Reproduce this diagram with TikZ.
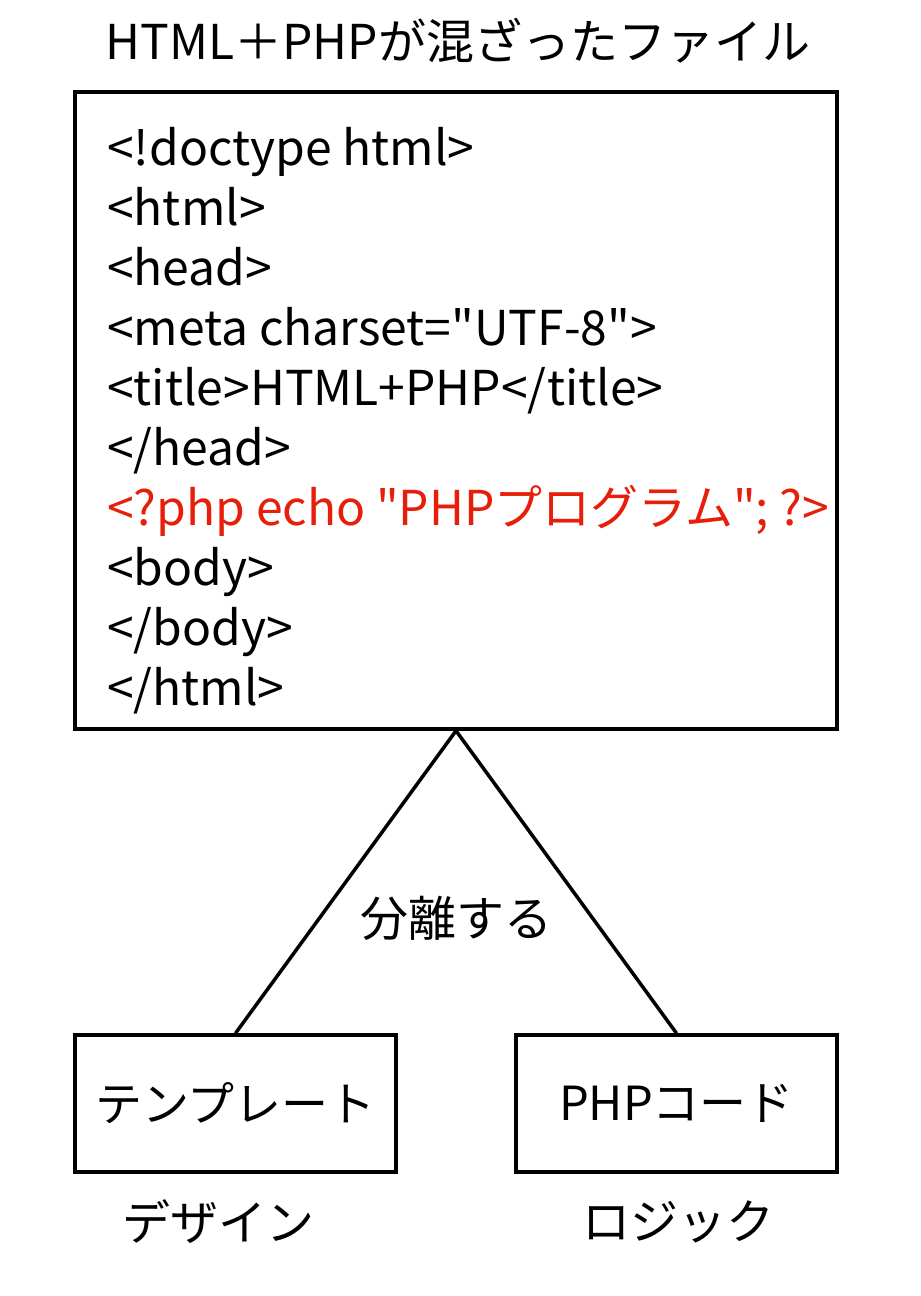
\documentclass[tikz,border=0pt]{standalone}
\usepackage{fontspec}
\setmainfont{Noto Sans CJK JP}[Ligatures=TeXOff]
\usepackage{tikz}
\usetikzlibrary{positioning}
\tikzset{%
  % Specifications for style of nodes:
         base/.style = {rectangle, draw=black, line width=3.5pt,
                        inner sep=0pt, text centered},
      filebox/.style = {base, minimum width=762pt, minimum height=637pt},
      partbox/.style = {base, minimum width=321pt, minimum height=137pt,
                        font=\fontsize{47}{50}\selectfont},
     codetext/.style = {anchor=base west, inner sep=0pt,
                        font=\fontsize{48}{60}\selectfont},
    labeltext/.style = {inner sep=0pt, font=\fontsize{48}{50}\selectfont},
         link/.style = {draw=black, line width=3.5pt},
}

\begin{document}
\begin{tikzpicture}[x=1pt, y=-1pt]
  \useasboundingbox (0,0) rectangle (921,1296);
  % Specification of nodes (position, etc.)
  \node (title) [labeltext] at (458,41) {HTML＋PHPが混ざったファイル};
  \node (file)  [filebox]   at (456,410.5) {};
  \node (line1)  [codetext] at (107,165) {<!doctype html>};
  \node (line2)  [codetext] at (107,225) {<html>};
  \node (line3)  [codetext] at (107,285) {<head>};
  \node (line4)  [codetext] at (107,345) {<meta charset="UTF-8">};
  \node (line5)  [codetext] at (107,405) {<title>HTML+PHP</title>};
  \node (line6)  [codetext] at (107,465) {</head>};
  \node (line7)  [codetext, text={rgb,255:red,230;green,30;blue,10}] at (107,525) {<?php echo "PHPプログラム"; ?>};
  \node (line8)  [codetext] at (107,585) {<body>};
  \node (line9)  [codetext] at (107,645) {</body>};
  \node (line10) [codetext] at (107,705) {</html>};
  \node (template) [partbox] at (235.5,1103.5) {テンプレート};
  \node (phpcode)  [partbox] at (676.5,1103.5) {PHPコード};
  \node (design) [labeltext] at (218,1222) {デザイン};
  \node (logic)  [labeltext] at (678,1222) {ロジック};
  % Specification of lines between nodes specified above
  \draw[link] (template.north) -- (file.south) -- (phpcode.north);
  \node (split) [labeltext] at (456,918) {分離する};
\end{tikzpicture}
\end{document}
